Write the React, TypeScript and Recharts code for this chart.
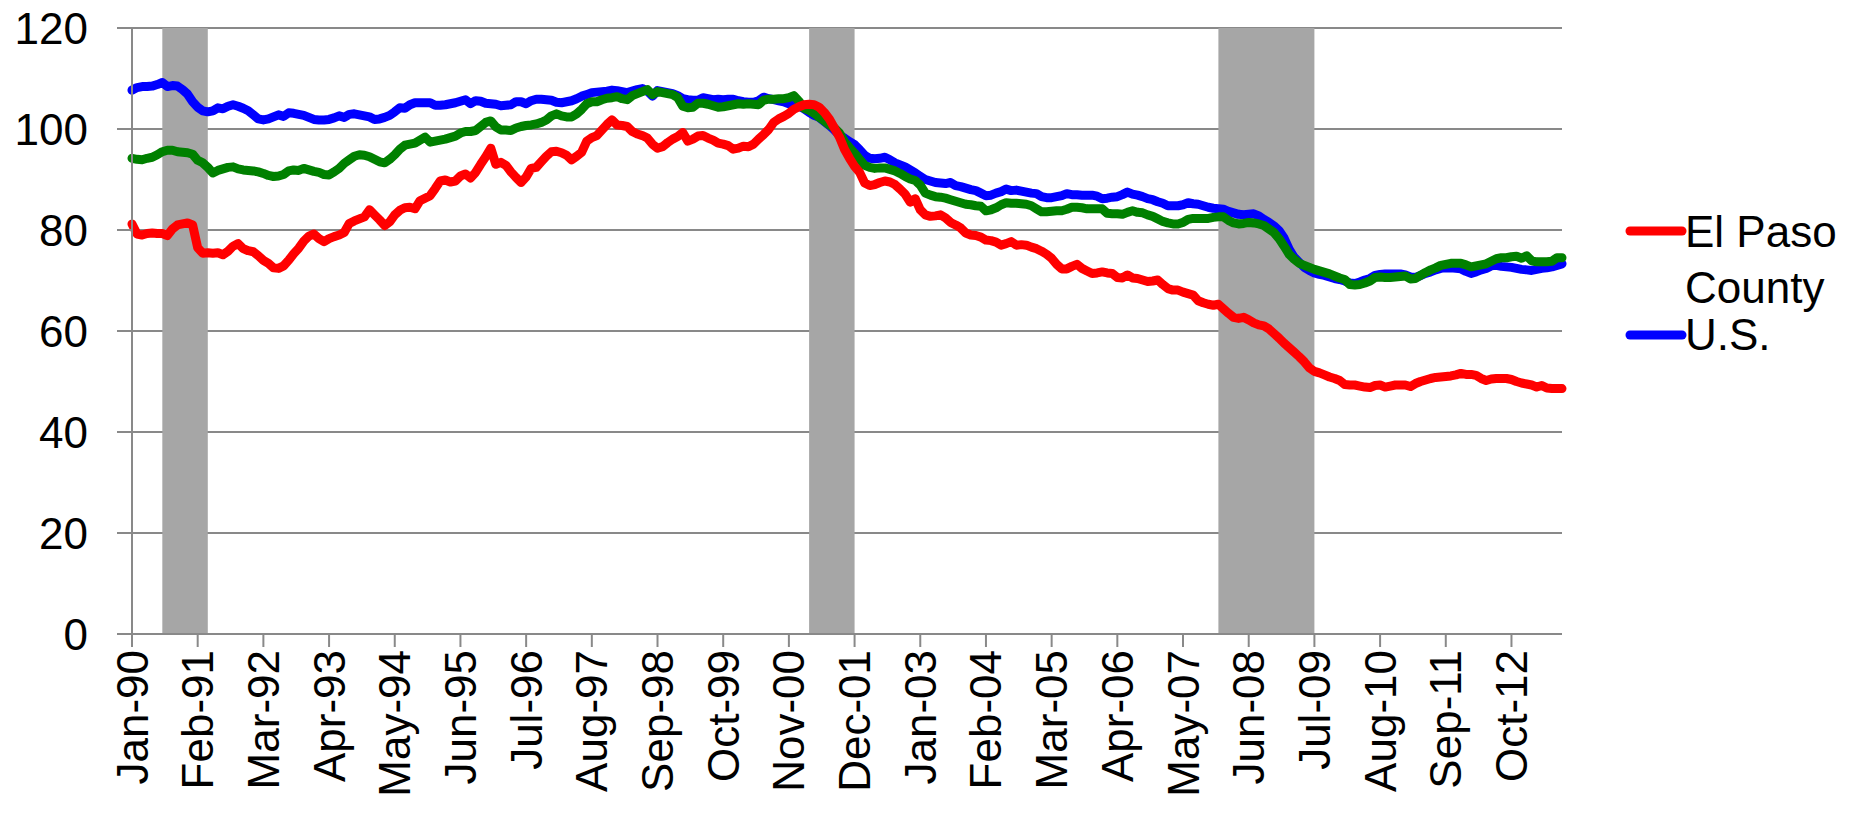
import { LineChart, Line, XAxis, YAxis, CartesianGrid, ReferenceArea } from "recharts";

// Monthly index, Jan-90 = 0 ... Aug-13 = 283
const TICK_LABELS = [
  "Jan-90", "Feb-91", "Mar-92", "Apr-93", "May-94", "Jun-95", "Jul-96", "Aug-97",
  "Sep-98", "Oct-99", "Nov-00", "Dec-01", "Jan-03", "Feb-04", "Mar-05", "Apr-06",
  "May-07", "Jun-08", "Jul-09", "Aug-10", "Sep-11", "Oct-12",
];
const TICK_STEP = 13;
const Y_TICKS = [0, 20, 40, 60, 80, 100, 120];

// recessions: first and last month index (Jul-90..Mar-91, Mar-01..Nov-01, Dec-07..Jun-09)
const RECESSIONS = [
  [6, 14],
  [134, 142],
  [215, 233],
];

const EL_PASO = [
  81.2, 79.2, 79.0, 79.3, 79.4, 79.3, 79.3, 78.9, 80.2, 81.0,
  81.2, 81.4, 81.0, 76.5, 75.4, 75.5, 75.4, 75.5, 75.1, 75.8,
  76.8, 77.3, 76.3, 75.9, 75.7, 74.9, 74.0, 73.4, 72.5, 72.4,
  72.9, 74.0, 75.3, 76.4, 77.8, 78.8, 79.2, 78.3, 77.7, 78.3,
  78.7, 79.0, 79.5, 81.3, 81.8, 82.2, 82.6, 84.0, 83.0, 82.0,
  80.9, 81.6, 83.0, 83.9, 84.4, 84.5, 84.2, 85.8, 86.3, 86.8,
  88.2, 89.7, 89.9, 89.5, 89.7, 90.7, 91.1, 90.3, 91.4, 93.0,
  94.5,
  96.2, 93.0, 93.4, 92.8, 91.5, 90.4, 89.4, 90.5, 92.2, 92.4,
  93.5, 94.6, 95.5, 95.6, 95.3, 94.8, 93.9, 94.6, 95.4, 97.6,
  98.3, 98.7, 99.8, 100.9, 101.8, 100.8, 100.7, 100.5, 99.5, 99.0,
  98.7, 98.2, 97.0, 96.2, 96.5, 97.3, 98.0, 98.5, 99.3, 97.6,
  98.0, 98.6, 98.7, 98.2, 97.8, 97.2, 97.0, 96.7, 96.0, 96.2,
  96.6, 96.5, 97.0, 98.0, 98.9, 99.9, 101.3, 102.0, 102.5, 103.1,
  103.9, 104.4, 104.8, 104.9, 104.8, 104.3, 103.3, 102.0, 100.2, 98.4,
  96.0,
  94.2, 92.6, 91.4, 89.3, 88.8, 89.0, 89.4, 89.7, 89.5, 89.0,
  88.1, 87.1, 85.5, 86.2, 84.0, 83.0, 82.7, 82.8, 83.0, 82.4,
  81.5, 81.0, 80.4, 79.4, 79.0, 78.9, 78.6, 78.0, 77.9, 77.6,
  77.0, 77.3, 77.7, 77.0, 77.1, 77.0, 76.6, 76.3, 75.8, 75.2,
  74.4, 73.2, 72.3, 72.3, 72.8, 73.2, 72.4, 71.9, 71.4, 71.5,
  71.7, 71.5, 71.4, 70.6, 70.5, 71.1, 70.5, 70.4, 70.1, 69.8,
  69.9, 70.1, 69.2, 68.4, 68.1, 68.1, 67.7, 67.4, 67.1, 66.0,
  65.6, 65.3,
  65.1, 65.3, 64.4, 63.5, 62.7, 62.5, 62.7, 62.2, 61.6, 61.2,
  61.0, 60.4, 59.5, 58.6, 57.6, 56.7, 55.8, 54.9, 53.9, 52.7,
  52.0, 51.7, 51.3, 50.9, 50.6, 50.2, 49.4, 49.3, 49.3, 49.1,
  48.9, 48.8, 49.2, 49.3, 48.9, 49.1, 49.3, 49.3, 49.3, 49.0,
  49.6, 50.0, 50.3, 50.6, 50.8, 50.9, 51.0, 51.1, 51.3, 51.6,
  51.4, 51.4, 51.2, 50.6, 50.2, 50.5, 50.6, 50.6, 50.6, 50.4,
  50.0, 49.7, 49.5, 49.3, 48.9, 49.2, 48.7, 48.6, 48.6, 48.6,
];

const US = [
  107.7, 108.2, 108.4, 108.4, 108.5, 108.8, 109.2, 108.4, 108.6, 108.5,
  107.8, 106.9, 105.4, 104.3, 103.6, 103.4, 103.6, 104.2, 104.0, 104.5,
  104.8, 104.5, 104.1, 103.6, 102.8, 102.0, 101.8, 102.0, 102.4, 102.8,
  102.5, 103.2, 103.1, 102.9, 102.7, 102.3, 101.9, 101.8, 101.8, 101.9,
  102.2, 102.6, 102.3, 102.9, 103.0, 102.8, 102.6, 102.4, 101.9, 102.0,
  102.3, 102.7, 103.4, 104.2, 104.1, 104.8, 105.2, 105.2, 105.2, 105.2,
  104.7, 104.7, 104.8, 105.0, 105.2, 105.5, 105.8, 105.0, 105.6, 105.5,
  105.1,
  105.0, 104.9, 104.6, 104.7, 104.8, 105.4, 105.4, 105.0, 105.6, 105.9,
  105.9, 105.8, 105.7, 105.3, 105.2, 105.4, 105.6, 106.0, 106.5, 106.8,
  107.2, 107.3, 107.4, 107.5, 107.7, 107.6, 107.4, 107.2, 107.5, 107.8,
  108.0, 107.5, 106.5, 107.6, 107.4, 107.2, 107.0, 106.6, 106.0, 105.8,
  105.7, 105.7, 106.2, 106.0, 105.8, 105.9, 105.8, 105.9, 105.9, 105.6,
  105.4, 105.3, 105.3, 105.6, 106.3, 106.0, 105.8, 105.6, 105.4, 105.0,
  104.7, 104.5, 104.0, 103.3, 102.7, 102.3, 101.5, 100.7, 99.8, 98.8,
  98.2,
  97.5, 96.9, 95.9, 94.8, 94.2, 94.1, 94.2, 94.4, 93.9, 93.3,
  92.9, 92.5, 91.9, 91.3, 90.6, 90.0, 89.7, 89.4, 89.3, 89.2,
  89.4, 88.8, 88.6, 88.3, 88.0, 87.8, 87.3, 86.8, 86.9, 87.3,
  87.6, 88.1, 87.8, 87.9, 87.7, 87.5, 87.3, 87.2, 86.6, 86.4,
  86.4, 86.6, 86.8, 87.2, 87.0, 87.0, 86.9, 86.9, 86.9, 86.7,
  86.2, 86.3, 86.5, 86.6, 87.0, 87.5, 87.1, 86.9, 86.6, 86.2,
  86.0, 85.6, 85.3, 84.8, 84.8, 84.8, 85.0, 85.4, 85.2, 85.1,
  84.8, 84.5,
  84.3, 84.2, 84.1, 83.7, 83.4, 83.1, 83.0, 83.1, 83.2, 82.8,
  82.1, 81.5, 80.8, 79.9, 78.4, 76.2, 74.6, 73.6, 72.6, 72.0,
  71.5, 71.2, 71.0, 70.7, 70.4, 70.2, 69.9, 69.5, 69.4, 69.7,
  70.1, 70.4, 71.0, 71.2, 71.3, 71.3, 71.3, 71.3, 71.1, 70.7,
  70.6, 71.0, 71.4, 71.7, 72.1, 72.4, 72.5, 72.5, 72.4, 72.3,
  71.8, 71.4, 71.7, 72.1, 72.4, 72.9, 73.0, 72.8, 72.7, 72.6,
  72.4, 72.2, 72.1, 72.0, 72.2, 72.4, 72.5, 72.7, 73.0, 73.3,
];

const TEXAS = [
  94.2, 94.0, 93.9, 94.2, 94.4, 94.9, 95.5, 95.8, 95.8, 95.5,
  95.4, 95.3, 95.0, 93.8, 93.3, 92.4, 91.3, 91.8, 92.1, 92.4,
  92.5, 92.1, 91.9, 91.8, 91.7, 91.5, 91.2, 90.8, 90.6, 90.7,
  91.0, 91.7, 91.9, 91.8, 92.2, 91.9, 91.6, 91.4, 91.0, 90.9,
  91.5, 92.2, 93.2, 93.9, 94.6, 94.9, 94.8, 94.5, 94.0, 93.5,
  93.3, 94.0, 94.9, 96.0, 96.8, 97.0, 97.2, 97.8, 98.4, 97.4,
  97.6, 97.8, 98.0, 98.3, 98.6, 99.2, 99.5, 99.5, 99.7, 100.5,
  101.3,
  101.6, 100.4, 99.8, 99.8, 99.7, 100.2, 100.5, 100.7, 100.8, 101.0,
  101.3, 101.8, 102.6, 103.0, 102.6, 102.4, 102.4, 103.0, 103.9, 105.0,
  105.4, 105.4, 105.8, 106.1, 106.2, 106.4, 106.0, 105.8, 106.6, 107.0,
  107.4, 107.8, 106.8, 107.4, 107.2, 107.0, 106.8, 106.2, 104.5, 104.2,
  104.3, 105.1, 105.1, 104.9, 104.6, 104.3, 104.4, 104.6, 104.8, 105.0,
  104.9, 105.0, 104.9, 104.8, 105.7, 105.9, 105.9, 106.0, 106.0, 106.2,
  106.6, 105.5, 104.1, 103.7, 103.1, 102.3, 101.6, 100.8, 100.2, 99.2,
  97.5,
  96.3, 95.2, 94.0, 92.8, 92.4, 92.2, 92.3, 92.3, 92.0, 91.7,
  91.2, 90.6, 90.1, 89.8, 88.9, 87.3, 86.9, 86.6, 86.5, 86.3,
  86.0, 85.7, 85.4, 85.1, 85.0, 84.8, 84.7, 83.8, 84.0, 84.4,
  85.0, 85.4, 85.3, 85.3, 85.2, 85.1, 84.8, 84.2, 83.6, 83.6,
  83.7, 83.8, 83.8, 84.1, 84.5, 84.5, 84.4, 84.2, 84.2, 84.2,
  84.2, 83.3, 83.2, 83.2, 83.1, 83.5, 83.8, 83.5, 83.4, 83.0,
  82.7, 82.2, 81.7, 81.4, 81.2, 81.2, 81.5, 82.1, 82.3, 82.3,
  82.3, 82.3,
  82.5, 82.6, 82.6, 81.9, 81.4, 81.2, 81.3, 81.5, 81.4, 81.2,
  80.9, 80.2, 79.5, 78.3, 76.8, 75.2, 74.2, 73.4, 73.0, 72.6,
  72.2, 71.9, 71.6, 71.3, 70.9, 70.5, 70.2, 69.2, 69.1, 69.2,
  69.5, 69.9, 70.6, 70.7, 70.6, 70.6, 70.7, 70.8, 70.9, 70.3,
  70.4, 71.0, 71.6, 72.1, 72.5, 73.0, 73.2, 73.4, 73.4, 73.4,
  73.1, 72.7, 72.9, 73.1, 73.3, 73.8, 74.3, 74.5, 74.5, 74.7,
  74.8, 74.4, 74.9, 73.9, 73.7, 73.7, 73.7, 73.8, 74.5, 74.5,
];

// drawing order: blue, green, red on top
const SERIES = [
  { key: "us", name: "U.S.", color: "#0000FF", values: US },
  { key: "texas", name: "Texas", color: "#008000", values: TEXAS },
  { key: "elPaso", name: "El Paso County", color: "#FF0000", values: EL_PASO },
];

const data = EL_PASO.map((_, i) => ({
  idx: i,
  elPaso: EL_PASO[i],
  us: US[i],
  texas: TEXAS[i],
}));

const FONT = "'Liberation Sans', Arial, sans-serif";
const AXIS_GRAY = "#898989";
const LINE_W = 9;

const MonthTick = (props: any) => {
  const { x, y, payload } = props;
  return (
    <text
      x={x}
      y={y}
      transform={`rotate(-90 ${x} ${y})`}
      textAnchor="end"
      dominantBaseline="central"
      fontSize={44}
      fontFamily={FONT}
      fill="#000"
    >
      {TICK_LABELS[Math.round(payload.value / TICK_STEP)]}
    </text>
  );
};

// legend only lists El Paso County and U.S. (as in the original), drawn over the chart's right side
const LegendBox = () => {
  const elPaso = SERIES[2];
  const us = SERIES[0];
  const words = elPaso.name.split(" ");
  return (
    <svg width={271} height={220} style={{ position: "absolute", left: 1600, top: 180 }}>
      <line x1={30} y1={51} x2={82} y2={51} stroke={elPaso.color} strokeWidth={LINE_W} strokeLinecap="round" />
      <text x={85} y={67} fontSize={44} fontFamily={FONT} fill="#000">{words[0] + " " + words[1]}</text>
      <text x={85} y={123} fontSize={44} fontFamily={FONT} fill="#000">{words[2]}</text>
      <line x1={30} y1={155} x2={82} y2={155} stroke={us.color} strokeWidth={LINE_W} strokeLinecap="round" />
      <text x={85} y={170} fontSize={44} fontFamily={FONT} fill="#000">{us.name}</text>
    </svg>
  );
};

export default function App() {
  return (
    <div style={{ position: "absolute", left: 0, top: 0, width: 1871, height: 823, background: "#fff" }}>
      <LineChart width={1871} height={823} data={data} margin={{ top: 28, right: 309, bottom: 0, left: 0 }}>
        <CartesianGrid vertical={false} stroke={AXIS_GRAY} strokeWidth={2} />
        {RECESSIONS.map(([start, end], i) => (
          <ReferenceArea
            key={i}
            x1={start}
            x2={end + 1}
            y1={0}
            y2={120}
            fill="#A6A6A6"
            fillOpacity={1}
            stroke="none"
          />
        ))}
        <XAxis
          dataKey="idx"
          type="number"
          domain={[0, EL_PASO.length - 1]}
          ticks={TICK_LABELS.map((_, i) => i * TICK_STEP)}
          interval={0}
          height={189}
          tickSize={13}
          tickMargin={3}
          stroke={AXIS_GRAY}
          strokeWidth={2}
          tick={<MonthTick />}
        />
        <YAxis
          type="number"
          domain={[0, 120]}
          ticks={Y_TICKS}
          interval={0}
          width={132}
          tickSize={15}
          tickMargin={29}
          stroke={AXIS_GRAY}
          strokeWidth={2}
          tick={{ fill: "#000", fontSize: 44, fontFamily: FONT }}
        />
        {SERIES.map((s) => (
          <Line
            key={s.key}
            dataKey={s.key}
            name={s.name}
            stroke={s.color}
            strokeWidth={LINE_W}
            strokeLinejoin="round"
            strokeLinecap="round"
            dot={false}
            activeDot={false}
            isAnimationActive={false}
          />
        ))}
      </LineChart>
      <LegendBox />
    </div>
  );
}
